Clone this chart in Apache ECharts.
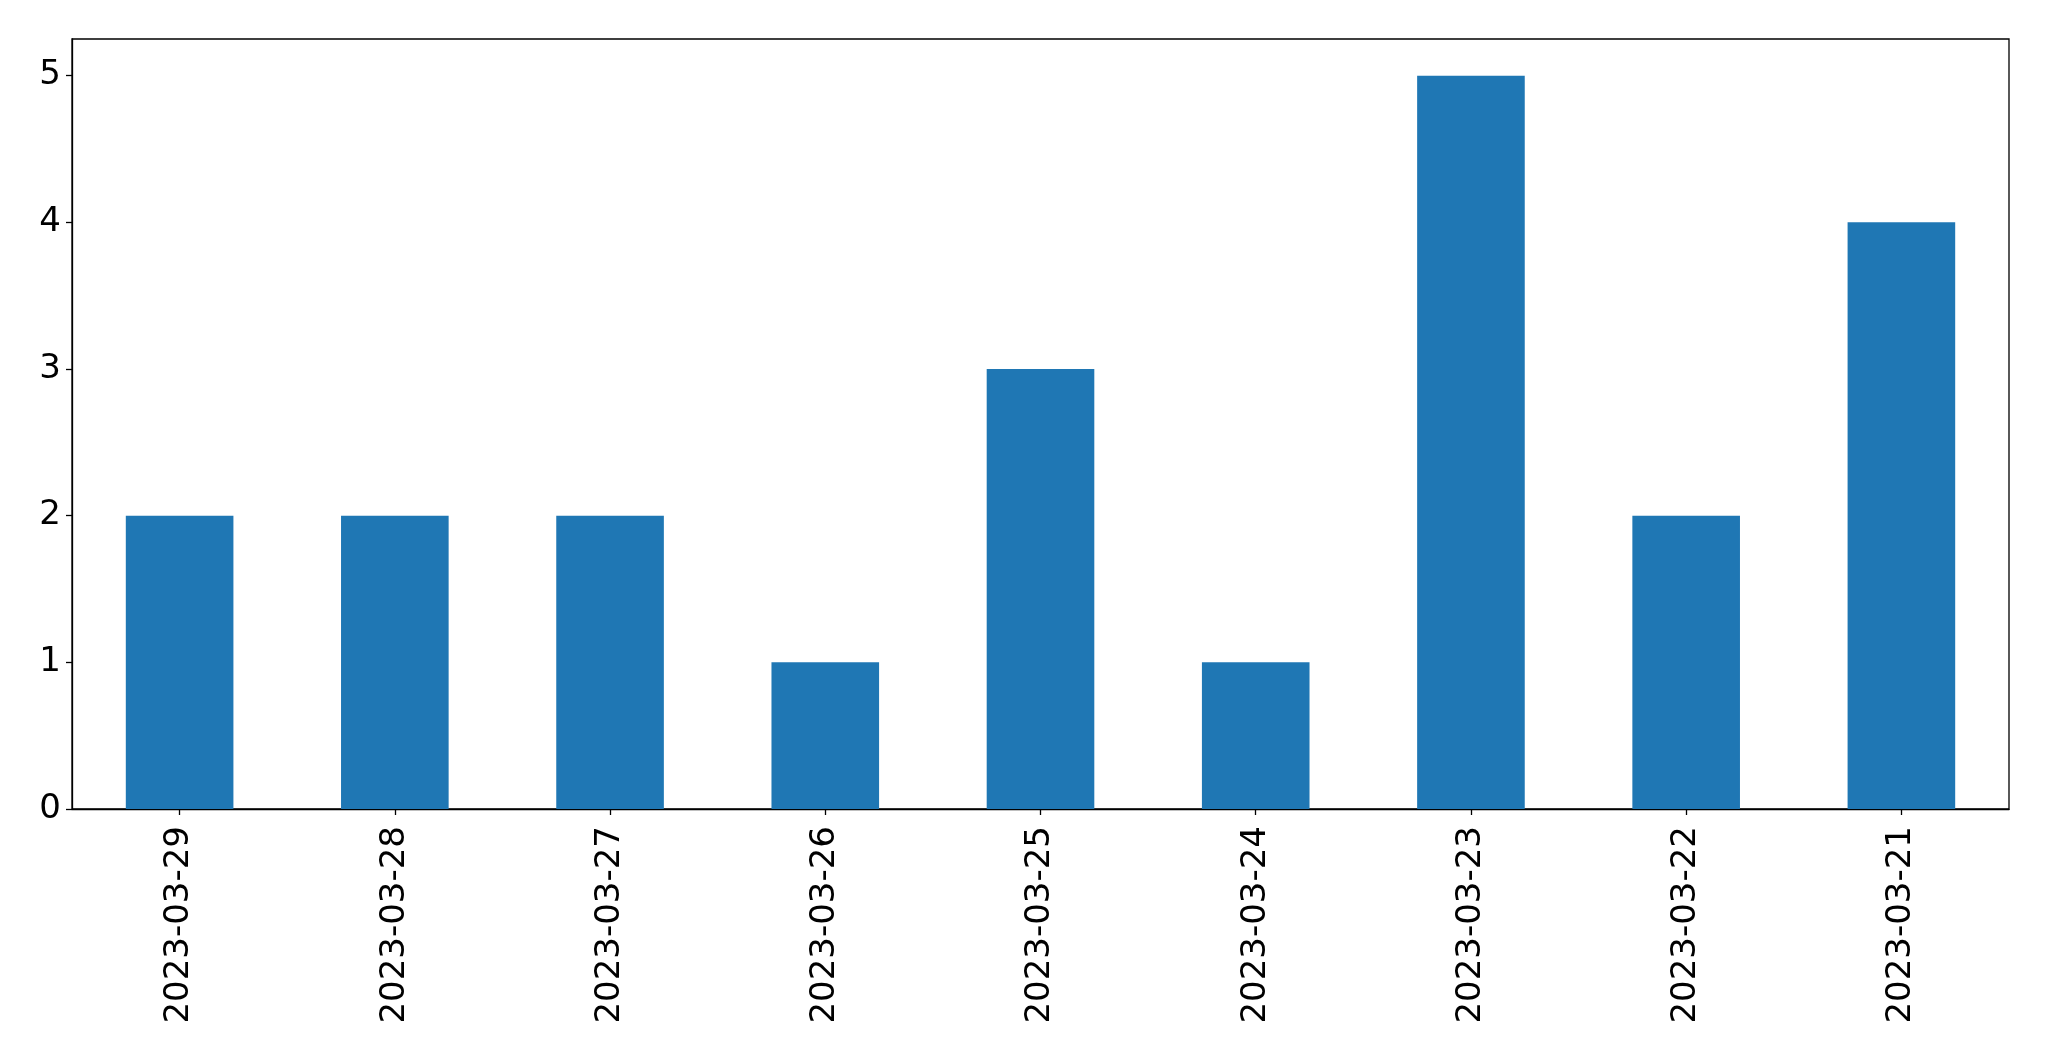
<!DOCTYPE html>
<html>
<head>
<meta charset="utf-8">
<script src="https://cdn.jsdelivr.net/npm/echarts@6/dist/echarts.min.js"></script>
<style>
html,body{margin:0;padding:0;background:#fff;}
#chart{width:2049px;height:1061px;}
</style>
</head>
<body>
<div id="chart"></div>
<script>
const categories = ["2023-03-29","2023-03-28","2023-03-27","2023-03-26","2023-03-25","2023-03-24","2023-03-23","2023-03-22","2023-03-21"];
const counts = [2,2,2,1,3,1,5,2,4];
const yTicks = [0,1,2,3,4,5];

const chart = echarts.init(document.getElementById('chart'), null, {renderer:'canvas'});
const font = 'DejaVu Sans';
chart.setOption({
  animation:false,
  backgroundColor:'#fff',
  grid:{left:72,right:40,top:39,bottom:252,show:true,borderColor:'#000',borderWidth:1.3,backgroundColor:'transparent'},
  xAxis:{
    type:'category',
    data:categories,
    boundaryGap:true,
    axisLine:{show:true,lineStyle:{color:'#000',width:1.3}},
    axisTick:{show:true,alignWithLabel:true,length:6,lineStyle:{color:'#000',width:1.3}},
    axisLabel:{rotate:90,margin:17,color:'#000',fontFamily:font,fontSize:34,interval:0},
    splitLine:{show:false}
  },
  yAxis:{
    type:'value',
    min:0,max:5.25,interval:1,
    axisLine:{show:true,lineStyle:{color:'#000',width:1.3}},
    axisTick:{show:true,length:6,lineStyle:{color:'#000',width:1.3}},
    axisLabel:{margin:11,color:'#000',fontFamily:font,fontSize:34,showMaxLabel:false,
      formatter:function(v){return yTicks.indexOf(v)>=0?String(v):'';}},
    splitLine:{show:false}
  },
  series:[{
    type:'bar',
    data:counts,
    barWidth:'50%',
    itemStyle:{color:'#1f77b4'}
  }]
});
</script>
</body>
</html>
